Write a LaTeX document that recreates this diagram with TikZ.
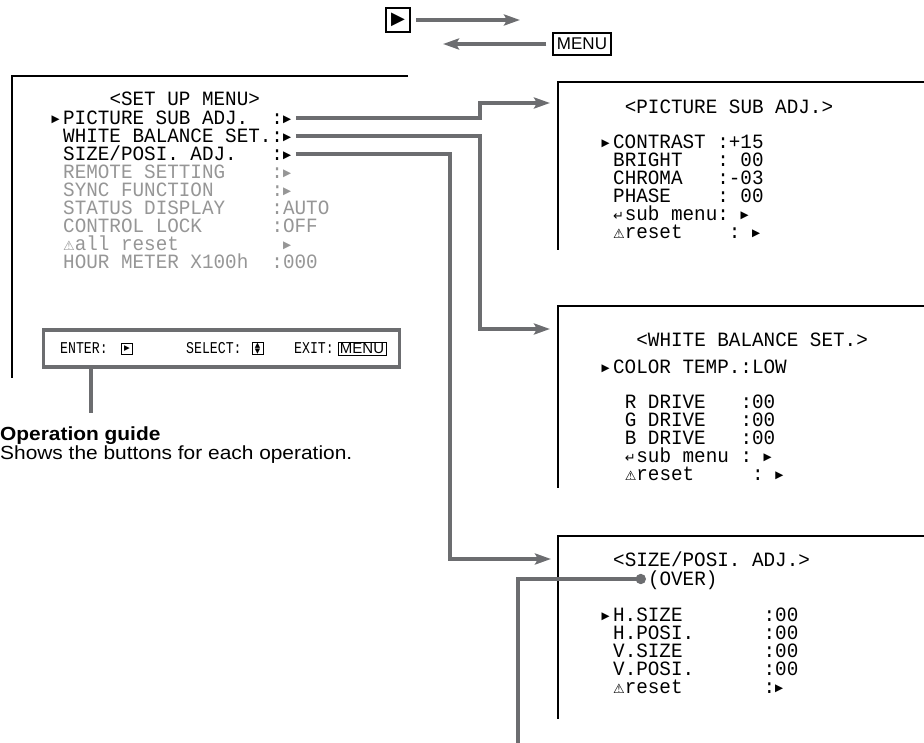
\documentclass[tikz,border=0pt]{standalone}
\usepackage{fontspec}
\setmainfont{Liberation Sans}
\newfontfamily\osdmono[FakeStretch=0.95]{Liberation Mono}
\newfontfamily\guidemono[FakeStretch=0.8]{Liberation Mono}
\newfontfamily\symfont{DejaVu Sans}
\newfontfamily\notefont[FakeStretch=1.1]{Liberation Sans}
\usetikzlibrary{arrows.meta}

\definecolor{linkgray}{RGB}{108,109,112}
\definecolor{dimgray}{RGB}{150,150,150}

\newcommand\osdfont{\osdmono\fontsize{20.3}{22}\selectfont\frenchspacing}
\newcommand\guidefont{\guidemono\fontsize{16.5}{17}\selectfont\frenchspacing}
\newcommand\mtri{\makebox[11.57pt][l]{\raisebox{1.8pt}{\symfont\fontsize{10.5}{10}\selectfont ▶}}}
\newcommand\warnmark{\makebox[11.57pt][l]{\symfont\fontsize{13}{13}\selectfont ⚠}}
\newcommand\retmark{\makebox[11.57pt][l]{\symfont\fontsize{13}{13}\selectfont ↵}}

\tikzset{
  osd/.style={anchor=base west, inner sep=0pt, font=\osdfont},
  guidetxt/.style={anchor=base west, inner sep=0pt, font=\guidefont},
  note/.style={anchor=base west, inner sep=0pt, font=\notefont\fontsize{19}{19}\selectfont},
  dim/.style={text=dimgray},
  frame/.style={line width=2.6pt},
  link/.style={draw=linkgray, line width=4.5pt, -{Stealth[length=16pt,width=11pt,inset=3pt]}},
  lead/.style={draw=linkgray, line width=3.5pt},
  keycap/.style={draw, inner sep=0pt},
}

\begin{document}
\begin{tikzpicture}[x=1pt,y=-1pt]
  \useasboundingbox (0,0) rectangle (924,743);
  % keys
  \node[keycap, line width=2.4pt, minimum size=24pt] (enterkey) at (398,20) {\symfont\fontsize{18}{18}\selectfont ▶};
  \node[keycap, line width=1.5pt, minimum width=58pt, minimum height=22pt, font=\fontsize{17}{17}\selectfont] (menukey) at (582,44) {MENU};
  \coordinate (enterend) at (520,20);
  \coordinate (menuend) at (443,44);
  \draw[link, line width=4pt] ([xshift=5pt]enterkey.east) -- (enterend);
  \draw[link, line width=4pt] ([xshift=-6pt]menukey.west) -- (menuend);

  % set up menu
  \draw[frame] (408,76) -| (12,378);
  \node[osd] (setup) at (109.3,105.6) {<SET~UP~MENU>};
  \node[osd] (pic) at (51.4,124.6) {\mtri PICTURE~SUB~ADJ.~~:\mtri};
  \node[osd] (wb) at (63,142.6) {WHITE~BALANCE~SET.:\mtri};
  \node[osd] (size) at (63,160.6) {SIZE/POSI.~ADJ.~~~:\mtri};
  \node[osd,dim] (remote) at (63,178.6) {REMOTE~SETTING~~~~:\mtri};
  \node[osd,dim] (sync) at (63,196.6) {SYNC~FUNCTION~~~~~:\mtri};
  \node[osd,dim] (status) at (63,214.6) {STATUS~DISPLAY~~~~:AUTO};
  \node[osd,dim] (lock) at (63,232.6) {CONTROL~LOCK~~~~~~:OFF};
  \node[osd,dim] (allreset) at (63,250.6) {\warnmark all~reset~~~~~~~~~\mtri};
  \node[osd,dim] (hour) at (63,268.6) {HOUR~METER~X100h~~:000};

  % operation guide
  \node[draw=linkgray, line width=3.5pt, minimum width=356pt, minimum height=37pt, inner sep=0pt] (guide) at (221.5,348.5) {};
  \node[guidetxt] (enter) at (60,354) {ENTER:};
  \node[keycap, line width=0.8pt, minimum size=11pt] (enterbtn) at (127,348.5) {\symfont\fontsize{7.5}{7.5}\selectfont ▶};
  \node[guidetxt] (select) at (186,354) {SELECT:};
  \node[keycap, line width=0.8pt, minimum size=11pt, align=center, font=\symfont\fontsize{7}{5.2}\selectfont] (selectbtn) at (257.5,348.5) {▲\\▼};
  \node[guidetxt] (exit) at (294,354) {EXIT:};
  \node[keycap, line width=0.8pt, minimum width=48pt, minimum height=13pt, font=\fontsize{15}{15}\selectfont] (exitbtn) at (362,348.5) {MENU};
  \coordinate (guidefoot) at (91,413);
  \draw[lead] (guide.south -| guidefoot) -- (guidefoot);
  \node[note, font=\notefont\bfseries\fontsize{19}{19}\selectfont] (opguide) at (0,440) {Operation guide};
  \node[note] (opnote) at (0,459) {Shows the buttons for each operation.};

  % picture sub adj.
  \draw[frame] (924,82) -| (558,250);
  \node[osd] (pictitle) at (624.6,113.6) {<PICTURE~SUB~ADJ.>};
  \node[osd] (contrast) at (601.4,148.6) {\mtri CONTRAST~:+15};
  \node[osd] (bright) at (613,166.6) {BRIGHT~~~:~00};
  \node[osd] (chroma) at (613,184.6) {CHROMA~~~:-03};
  \node[osd] (phase) at (613,202.6) {PHASE~~~~:~00};
  \node[osd] (picsub) at (613,220.6) {\retmark sub~menu:~\mtri};
  \node[osd] (picreset) at (613,238.6) {\warnmark reset~~~~:~\mtri};

  % white balance set.
  \draw[frame] (924,306) -| (558,488);
  \node[osd] (wbtitle) at (636.2,346.6) {<WHITE~BALANCE~SET.>};
  \node[osd] (temp) at (601.4,373.6) {\mtri COLOR~TEMP.:LOW};
  \node[osd] (rdrive) at (624.6,408.6) {R~DRIVE~~~:00};
  \node[osd] (gdrive) at (624.6,426.6) {G~DRIVE~~~:00};
  \node[osd] (bdrive) at (624.6,444.6) {B~DRIVE~~~:00};
  \node[osd] (wbsub) at (624.6,462.6) {\retmark sub~menu~:~\mtri};
  \node[osd] (wbreset) at (624.6,480.6) {\warnmark reset~~~~~:~\mtri};

  % size/posi. adj.
  \draw[frame] (924,536) -| (558,719);
  \node[osd] (sizetitle) at (613,566.6) {<SIZE/POSI.~ADJ.>};
  \node[osd] (over) at (647.8,585.6) {(OVER)};
  \node[osd] (hsize) at (601.4,621.6) {\mtri H.SIZE~~~~~~~:00};
  \node[osd] (hposi) at (613,639.6) {H.POSI.~~~~~~:00};
  \node[osd] (vsize) at (613,657.6) {V.SIZE~~~~~~~:00};
  \node[osd] (vposi) at (613,675.6) {V.POSI.~~~~~~:00};
  \node[osd] (sizereset) at (613,693.6) {\warnmark reset~~~~~~~:\mtri};

  % links
  \coordinate (picin) at (550,103);
  \coordinate (wbin) at (550,329);
  \coordinate (sizein) at (551,559);
  \draw[link] ([xshift=1pt,yshift=6.6pt]pic.base east) -| ([xshift=-70pt]picin) -- (picin);
  \draw[link] ([xshift=1pt,yshift=6.6pt]wb.base east) -| ([xshift=-70pt]wbin) -- (wbin);
  \draw[link] ([xshift=1pt,yshift=6.6pt]size.base east) -| ([xshift=-101pt]sizein) -- (sizein);

  % over marker
  \coordinate (overdot) at ([xshift=-7pt,yshift=6.6pt]over.base west);
  \coordinate (overfoot) at (518,743);
  \draw[lead] (overfoot) |- (overdot);
  \fill[linkgray] (overdot) circle (5.2pt);
\end{tikzpicture}
\end{document}
